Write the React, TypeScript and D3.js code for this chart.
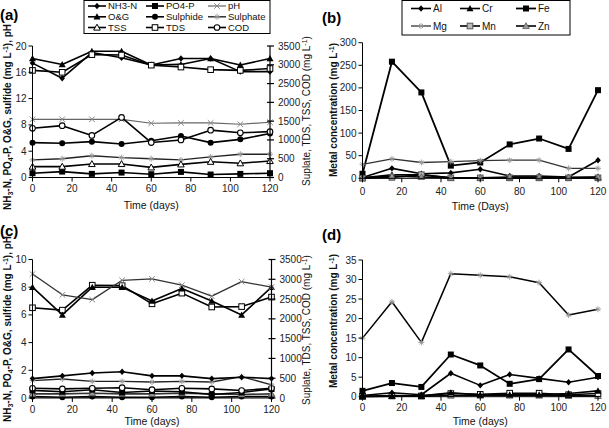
import React from 'react';
import * as d3 from 'd3';

const FONT = '"Liberation Sans", Arial, Helvetica, sans-serif';

const days = [0, 15, 30, 45, 60, 75, 90, 105, 120];
const xTicks = [0, 20, 40, 60, 80, 100, 120];

// Panel (a) – left axis (mg/L, pH) and right axis (mg/L)
const aNH3N = [17.4, 15.1, 19.0, 18.2, 17.1, 18.1, 18.1, 16.1, 16.1];
const aPO4P = [0.65, 0.9, 0.55, 0.75, 0.5, 0.85, 0.45, 0.55, 0.65];
const aPH = [8.85, 8.85, 8.85, 8.85, 8.25, 8.3, 8.3, 8.1, 8.4];
const aOG = [18.1, 17.2, 19.2, 19.2, 17.1, 17.2, 18.1, 17.1, 18.1];
const aSulphide = [5.3, 5.2, 5.45, 5.1, 5.6, 6.3, 5.3, 5.8, 6.7];
const aSulphate = [470, 500, 580, 530, 500, 470, 550, 620, 620];
const aTSS = [290, 290, 360, 360, 270, 350, 420, 380, 440];
const aTDS = [2850, 2800, 3270, 3260, 2990, 2940, 2870, 2850, 2900];
const aCOD = [1310, 1380, 1120, 1600, 930, 1000, 1260, 1190, 1220];

// Panel (b)
const bAl = [2, 22, 10, 12, 20, 5, 5, 3, 40];
const bCr = [1, 8, 8, 1, 1, 1, 1, 1, 2];
const bFe = [10, 258, 190, 28, 35, 75, 88, 65, 195];
const bMg = [31, 43, 35, 37, 39, 40, 40, 22, 22];
const bMn = [0, 2, 8, 1, 1, 1, 1, 1, 1];
const bZn = [1, 5, 3, 1, 1, 3, 3, 2, 3];

// Panel (c)
const cNH3N = [1.4, 1.6, 1.8, 1.9, 1.6, 1.6, 1.4, 1.5, 1.4];
const cPO4P = [0.55, 0.45, 0.6, 0.4, 0.5, 0.45, 0.25, 0.4, 0.65];
const cPH = [8.95, 7.45, 7.1, 8.5, 8.6, 8.15, 7.35, 8.4, 8.0];
const cOG = [8.0, 6.0, 8.0, 8.0, 7.0, 7.9, 7.0, 6.0, 8.0];
const cSulphide = [0.1, 0.05, 0.1, 0.05, 0.05, 0.1, 0.05, 0.1, 0.1];
const cSulphate = [440, 480, 420, 420, 405, 420, 405, 540, 330];
const cTSS = [105, 105, 120, 105, 105, 120, 105, 90, 105];
const cTDS = [2280, 2220, 2850, 2840, 2380, 2650, 2300, 2310, 2550];
const cCOD = [245, 230, 245, 260, 210, 245, 230, 190, 245];

// Panel (d)
const dAl = [0.3, 1.0, 0.5, 6.0, 2.9, 5.7, 4.7, 3.7, 5.0];
const dCr = [0.1, 0.2, 0.2, 1.0, 0.5, 0.5, 0.5, 0.8, 1.5];
const dFe = [1.5, 3.5, 2.5, 10.8, 8.0, 3.3, 4.5, 12.1, 5.3];
const dMg = [15, 24.3, 13.9, 31.5, 31.1, 30.7, 29.2, 20.9, 22.4];
const dMn = [0.1, 0.3, 0.2, 0.8, 0.6, 0.9, 0.9, 0.5, 0.8];
const dZn = [0, 0.1, 0.1, 0.3, 0.3, 0.3, 0.3, 0.2, 0.2];

const aLeftTicks = [0, 4, 8, 12, 16, 20];
const cLeftTicks = [0, 2, 4, 6, 8, 10];
const rightTicks = [0, 500, 1000, 1500, 2000, 2500, 3000, 3500];
const bTicks = [0, 50, 100, 150, 200, 250, 300];
const dTicks = [0, 5, 10, 15, 20, 25, 30, 35];

type Shape =
  | 'diamond' | 'square' | 'squareOpen' | 'squareGray' | 'triangle' | 'triangleOpen'
  | 'triangleGray' | 'circle' | 'circleOpen' | 'cross' | 'star';

interface Series {
  name: string;
  values: number[];
  axis: 'left' | 'right';
  shape: Shape;
  stroke: string;
  width: number;
}

function Marker({ shape, x, y }: { shape: Shape; x: number; y: number }) {
  switch (shape) {
    case 'diamond':
      return <path d={`M${x},${y - 3.2}L${x + 2.8},${y}L${x},${y + 3.2}L${x - 2.8},${y}Z`} fill="#000" />;
    case 'square':
      return <rect x={x - 3} y={y - 3} width={6} height={6} fill="#000" />;
    case 'squareOpen':
      return <rect x={x - 2.8} y={y - 2.8} width={5.6} height={5.6} fill="#fff" stroke="#000" strokeWidth={1} />;
    case 'squareGray':
      return <rect x={x - 2.8} y={y - 2.8} width={5.6} height={5.6} fill="#bbb" stroke="#555" strokeWidth={1} />;
    case 'triangle':
      return <path d={`M${x},${y - 3.5}L${x + 3.5},${y + 2.8}L${x - 3.5},${y + 2.8}Z`} fill="#000" />;
    case 'triangleOpen':
      return <path d={`M${x},${y - 3.3}L${x + 3.3},${y + 2.6}L${x - 3.3},${y + 2.6}Z`} fill="#fff" stroke="#000" strokeWidth={1} />;
    case 'triangleGray':
      return <path d={`M${x},${y - 3.3}L${x + 3.3},${y + 2.6}L${x - 3.3},${y + 2.6}Z`} fill="#999" stroke="#555" strokeWidth={0.8} />;
    case 'circle':
      return <circle cx={x} cy={y} r={3} fill="#000" />;
    case 'circleOpen':
      return <circle cx={x} cy={y} r={2.8} fill="#fff" stroke="#000" strokeWidth={1.1} />;
    case 'cross':
      return (
        <path d={`M${x - 2.8},${y - 2.8}L${x + 2.8},${y + 2.8}M${x - 2.8},${y + 2.8}L${x + 2.8},${y - 2.8}`} stroke="#888" strokeWidth={1} />
      );
    case 'star':
      return (
        <path
          d={`M${x - 3},${y}L${x + 3},${y}M${x},${y - 3}L${x},${y + 3}M${x - 2},${y - 2}L${x + 2},${y + 2}M${x - 2},${y + 2}L${x + 2},${y - 2}`}
          stroke="#999"
          strokeWidth={0.9}
        />
      );
  }
  return null;
}

const aSeries: Series[] = [
  { name: 'NH3-N', values: aNH3N, axis: 'left', shape: 'diamond', stroke: '#000', width: 1.6 },
  { name: 'PO4-P', values: aPO4P, axis: 'left', shape: 'square', stroke: '#000', width: 1.6 },
  { name: 'pH', values: aPH, axis: 'left', shape: 'cross', stroke: '#666', width: 1.2 },
  { name: 'O&G', values: aOG, axis: 'left', shape: 'triangle', stroke: '#000', width: 1.6 },
  { name: 'Sulphide', values: aSulphide, axis: 'left', shape: 'circle', stroke: '#000', width: 1.6 },
  { name: 'Sulphate', values: aSulphate, axis: 'right', shape: 'star', stroke: '#222', width: 1.4 },
  { name: 'TSS', values: aTSS, axis: 'right', shape: 'triangleOpen', stroke: '#000', width: 1.6 },
  { name: 'TDS', values: aTDS, axis: 'right', shape: 'squareOpen', stroke: '#000', width: 1.6 },
  { name: 'COD', values: aCOD, axis: 'right', shape: 'circleOpen', stroke: '#000', width: 1.6 },
];

const cSeries: Series[] = [
  { name: 'Sulphide', values: cSulphide, axis: 'left', shape: 'circle', stroke: '#000', width: 1.6 },
  { name: 'TSS', values: cTSS, axis: 'right', shape: 'triangleGray', stroke: '#333', width: 1.6 },
  { name: 'PO4-P', values: cPO4P, axis: 'left', shape: 'square', stroke: '#000', width: 1.6 },
  { name: 'COD', values: cCOD, axis: 'right', shape: 'circleOpen', stroke: '#000', width: 1.6 },
  { name: 'Sulphate', values: cSulphate, axis: 'right', shape: 'star', stroke: '#222', width: 1.4 },
  { name: 'NH3-N', values: cNH3N, axis: 'left', shape: 'diamond', stroke: '#000', width: 1.6 },
  { name: 'TDS', values: cTDS, axis: 'right', shape: 'squareOpen', stroke: '#000', width: 1.6 },
  { name: 'O&G', values: cOG, axis: 'left', shape: 'triangle', stroke: '#000', width: 1.6 },
  { name: 'pH', values: cPH, axis: 'left', shape: 'cross', stroke: '#333', width: 1.3 },
];

const bSeries: Series[] = [
  { name: 'Al', values: bAl, axis: 'left', shape: 'diamond', stroke: '#000', width: 1.6 },
  { name: 'Cr', values: bCr, axis: 'left', shape: 'triangle', stroke: '#000', width: 1.6 },
  { name: 'Fe', values: bFe, axis: 'left', shape: 'square', stroke: '#000', width: 1.8 },
  { name: 'Mg', values: bMg, axis: 'left', shape: 'star', stroke: '#333', width: 1.3 },
  { name: 'Mn', values: bMn, axis: 'left', shape: 'squareGray', stroke: '#000', width: 1.6 },
  { name: 'Zn', values: bZn, axis: 'left', shape: 'triangleGray', stroke: '#000', width: 1.6 },
];

const dSeries: Series[] = [
  { name: 'Zn', values: dZn, axis: 'left', shape: 'triangleGray', stroke: '#000', width: 1.6 },
  { name: 'Mn', values: dMn, axis: 'left', shape: 'squareOpen', stroke: '#000', width: 1.6 },
  { name: 'Cr', values: dCr, axis: 'left', shape: 'triangle', stroke: '#000', width: 1.6 },
  { name: 'Al', values: dAl, axis: 'left', shape: 'diamond', stroke: '#000', width: 1.6 },
  { name: 'Fe', values: dFe, axis: 'left', shape: 'square', stroke: '#000', width: 1.8 },
  { name: 'Mg', values: dMg, axis: 'left', shape: 'star', stroke: '#000', width: 1.5 },
];

interface PanelProps {
  x0: number; x1: number; yB: number; yT: number;
  leftMax: number; leftTicks: number[];
  rightMax?: number; rightTicks?: number[];
  series: Series[];
  tickLabelY: number;
  xTitle: string; xTitleY: number;
}

function Panel(p: PanelProps) {
  const x = d3.scaleLinear().domain([0, 120]).range([p.x0, p.x1]);
  const yl = d3.scaleLinear().domain([0, p.leftMax]).range([p.yB, p.yT]);
  const yr = d3.scaleLinear().domain([0, p.rightMax ?? 1]).range([p.yB, p.yT]);
  return (
    <g>
      {p.series.map((s) => {
        const ys = s.axis === 'left' ? yl : yr;
        const line = d3.line<number>().x((_, i) => x(days[i])).y((v) => ys(v));
        return (
          <g key={s.name}>
            <path d={line(s.values) || ''} fill="none" stroke={s.stroke} strokeWidth={s.width} strokeLinejoin="round" />
            {s.values.map((v, i) => (
              <Marker key={i} shape={s.shape} x={x(days[i])} y={ys(v)} />
            ))}
          </g>
        );
      })}
      <line x1={p.x0} x2={p.x1} y1={p.yB} y2={p.yB} stroke="#000" strokeWidth={1} />
      <line x1={p.x0} x2={p.x0} y1={p.yB} y2={p.yT} stroke="#000" strokeWidth={1} />
      {p.rightMax !== undefined && (
        <line x1={p.x1} x2={p.x1} y1={p.yB} y2={p.yT} stroke="#000" strokeWidth={1.2} />
      )}
      {xTicks.map((t) => (
        <g key={t}>
          <line x1={x(t)} x2={x(t)} y1={p.yB} y2={p.yB + 4} stroke="#000" />
          <text x={x(t)} y={p.tickLabelY} textAnchor="middle" fontSize={10} fill="#222">{t}</text>
        </g>
      ))}
      {p.leftTicks.map((t) => (
        <g key={t}>
          <line x1={p.x0 - 4} x2={p.x0} y1={yl(t)} y2={yl(t)} stroke="#000" />
          <text x={p.x0 - 6} y={yl(t) + 3.5} textAnchor="end" fontSize={10} fill="#222">{t}</text>
        </g>
      ))}
      {p.rightTicks && p.rightTicks.map((t) => (
        <g key={t}>
          <line x1={p.x1 - 3} x2={p.x1 + 4} y1={yr(t)} y2={yr(t)} stroke="#000" strokeWidth={1.2} />
          <text x={p.x1 + 8} y={yr(t) + 3.5} textAnchor="start" fontSize={10} fill="#222">{t}</text>
        </g>
      ))}
      <text x={(p.x0 + p.x1) / 2} y={p.xTitleY} textAnchor="middle" fontSize={10.5} fill="#111">{p.xTitle}</text>
    </g>
  );
}

function LeftTitle({ x, y }: { x: number; y: number }) {
  return (
    <text transform={`translate(${x},${y}) rotate(-90)`} textAnchor="middle" fontSize={10} fontWeight="bold" fill="#111">
      NH<tspan dy={2} fontSize={7}>3</tspan>
      <tspan dy={-2}>-N, PO</tspan>
      <tspan dy={2} fontSize={7}>4</tspan>
      <tspan dy={-2}>-P, O&amp;G, sulfide (mg L</tspan>
      <tspan dy={-3} fontSize={7}>-1</tspan>
      <tspan dy={3}>), pH</tspan>
    </text>
  );
}

function RightTitle({ x, y, text, bold }: { x: number; y: number; text: string; bold: boolean }) {
  return (
    <text transform={`translate(${x},${y}) rotate(-90)`} textAnchor="middle" fontSize={10} fontWeight={bold ? 'bold' : 'normal'} fill="#111">
      {text} (mg L<tspan dy={-3} fontSize={7}>-1</tspan>
      <tspan dy={3}>)</tspan>
    </text>
  );
}

function LegendItem({ s, lx, ly, tx, fs, len }: { s: Series; lx: number; ly: number; tx: number; fs: number; len: number }) {
  return (
    <g>
      <line x1={lx} x2={lx + len} y1={ly} y2={ly} stroke={s.stroke} strokeWidth={s.width} />
      <Marker shape={s.shape} x={lx + len / 2} y={ly} />
      <text x={tx} y={ly + fs * 0.36} fontSize={fs} fill="#111">{s.name}</text>
    </g>
  );
}

export default function App() {
  const aCols = [88, 146, 208];
  const aRows = [6, 16.8, 27.5];
  const bCols = [411, 460, 516];
  const bRows = [8.5, 26];
  return (
    <svg
      width={609}
      height={428}
      viewBox="0 0 609 428"
      style={{ position: 'absolute', left: 0, top: 0, background: '#fff', fontFamily: FONT }}
      fontFamily={FONT}
    >
      <rect width={609} height={428} fill="#fff" />
      {/* (a) */}
      <text x={0} y={20} fontSize={15} fontWeight="bold">(a)</text>
      <rect x={84} y={0.5} width={186} height={33} fill="#fff" stroke="#000" strokeWidth={1} />
      {aSeries.map((s, i) => (
        <LegendItem key={s.name} s={s} lx={aCols[i % 3]} ly={aRows[Math.floor(i / 3)]} tx={aCols[i % 3] + 20} fs={9.5} len={18} />
      ))}
      <Panel x0={32.5} x1={270} yB={177.5} yT={46} leftMax={20} leftTicks={aLeftTicks}
        rightMax={3500} rightTicks={rightTicks} series={aSeries} tickLabelY={192} xTitle="Time (days)" xTitleY={209} />
      <LeftTitle x={11} y={117} />
      <RightTitle x={310} y={111} text="Suplate, TDS, TSS, COD" bold={false} />

      {/* (b) */}
      <text x={322} y={23} fontSize={15} fontWeight="bold">(b)</text>
      <rect x={402} y={0.5} width={168} height={34.5} fill="#fff" stroke="#000" strokeWidth={1} />
      {bSeries.map((s, i) => (
        <LegendItem key={s.name} s={s} lx={bCols[i % 3]} ly={bRows[Math.floor(i / 3)]} tx={bCols[i % 3] + 22} fs={10} len={20} />
      ))}
      <Panel x0={362.5} x1={598} yB={178.3} yT={42.7} leftMax={300} leftTicks={bTicks}
        series={bSeries} tickLabelY={195} xTitle="Time (Days)" xTitleY={210} />
      <RightTitle x={337} y={110} text="Metal concentration" bold={true} />

      {/* (c) */}
      <text x={0} y={236} fontSize={15} fontWeight="bold">(c)</text>
      <Panel x0={32.5} x1={271.5} yB={398} yT={259.5} leftMax={10} leftTicks={cLeftTicks}
        rightMax={3500} rightTicks={rightTicks} series={cSeries} tickLabelY={413} xTitle="Time (days)" xTitleY={425} />
      <LeftTitle x={11} y={329} />
      <RightTitle x={310} y={330} text="Suplate, TDS, TSS, COD" bold={false} />

      {/* (d) */}
      <text x={322} y={240} fontSize={15} fontWeight="bold">(d)</text>
      <Panel x0={362.5} x1={598} yB={396.7} yT={260} leftMax={35} leftTicks={dTicks}
        series={dSeries} tickLabelY={411} xTitle="Time (days)" xTitleY={425} />
      <RightTitle x={337} y={321} text="Metal concentration" bold={true} />
    </svg>
  );
}
